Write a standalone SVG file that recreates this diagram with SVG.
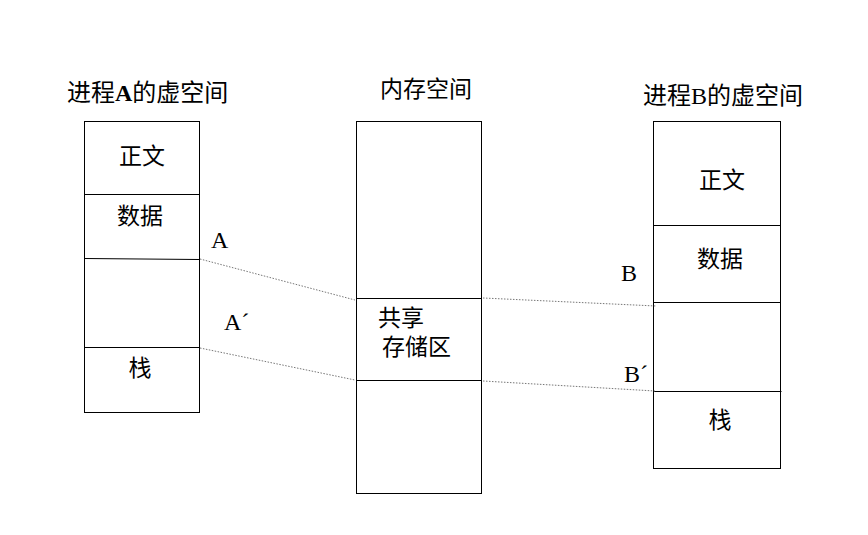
<svg xmlns="http://www.w3.org/2000/svg" width="868" height="535" viewBox="0 0 868 535">
<style>
.box{fill:#fff;stroke:#000;stroke-width:1}
.div{stroke:#000;stroke-width:1;fill:none}
.dot{stroke:#777;stroke-width:1;stroke-dasharray:1.5 1.5;fill:none}
text{font-family:"Liberation Serif","Noto Sans CJK SC",serif;font-size:23px;fill:#000}
.ttl{font-size:24px}
.lbl{font-size:24px}
</style>
<rect width="868" height="535" fill="#fff"/>
<g id="procA">
<text class="ttl" x="67" y="101">进程<tspan font-weight="bold">A</tspan>的虚空间</text>
<rect class="box" x="84.5" y="121.5" width="115" height="291"/>
<line class="div" x1="84.5" y1="194.5" x2="199.5" y2="194.5"/>
<line class="div" x1="84.5" y1="258.5" x2="199.5" y2="259.5"/>
<line class="div" x1="84.5" y1="347.5" x2="199.5" y2="347.5"/>
<text x="142" y="164" text-anchor="middle">正文</text>
<text x="140" y="224" text-anchor="middle">数据</text>
<text x="140" y="376" text-anchor="middle">栈</text>
</g>
<g id="memory">
<text x="380" y="97">内存空间</text>
<rect class="box" x="356.5" y="121.5" width="125" height="372"/>
<line class="div" x1="356.5" y1="298.5" x2="481.5" y2="298.5"/>
<line class="div" x1="356.5" y1="380.5" x2="481.5" y2="380.5"/>
<text x="378" y="326">共享</text>
<text x="382" y="355">存储区</text>
</g>
<g id="procB">
<text class="ttl" x="643" y="104">进程B的虚空间</text>
<rect class="box" x="653.5" y="121.5" width="127" height="347"/>
<line class="div" x1="653.5" y1="225.5" x2="780.5" y2="225.5"/>
<line class="div" x1="653.5" y1="302.5" x2="780.5" y2="302.5"/>
<line class="div" x1="653.5" y1="391.5" x2="781.5" y2="391.5"/>
<text x="722" y="188" text-anchor="middle">正文</text>
<text x="720" y="267" text-anchor="middle">数据</text>
<text x="720" y="428" text-anchor="middle">栈</text>
</g>
<g id="connectors">
<line class="dot" x1="200" y1="259" x2="355" y2="300"/>
<line class="dot" x1="200" y1="348" x2="355" y2="380"/>
<line class="dot" x1="483" y1="298" x2="656" y2="306"/>
<line class="dot" x1="483" y1="381" x2="655" y2="391"/>
<text class="lbl" x="211" y="248">A</text>
<text class="lbl" x="224" y="330">A´</text>
<text class="lbl" x="621" y="281">B</text>
<text class="lbl" x="624" y="382">B´</text>
</g>
</svg>
